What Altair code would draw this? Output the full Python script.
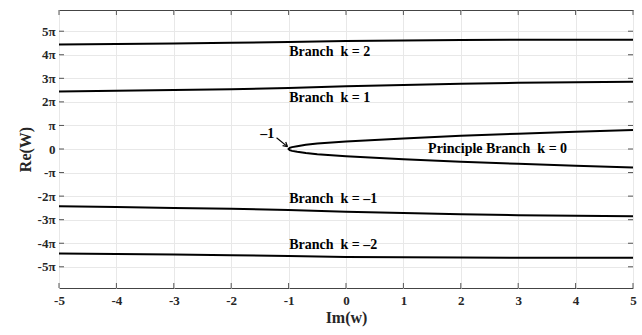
import altair as alt
import pandas as pd

# ---- data ----
branch_x = [-5, -4, -3, -2, -1, 0, 1, 2, 3, 4, 5]
k2_y = [4.44, 4.46, 4.48, 4.51, 4.54, 4.58, 4.61, 4.63, 4.635, 4.64, 4.64]
k1_y = [2.44, 2.47, 2.50, 2.54, 2.59, 2.66, 2.72, 2.77, 2.81, 2.83, 2.85]
km1_y = [-2.43, -2.46, -2.50, -2.54, -2.59, -2.66, -2.72, -2.77, -2.81, -2.83, -2.85]
km2_y = [-4.44, -4.46, -4.48, -4.51, -4.54, -4.58, -4.60, -4.61, -4.62, -4.62, -4.62]

p_x = [-1, -0.98, -0.94, -0.85, -0.7, -0.5, 0, 1, 2, 3, 4, 5]
p_upper = [0, 0.05, 0.08, 0.12, 0.18, 0.23, 0.32, 0.45, 0.56, 0.65, 0.73, 0.81]
p_lower = [0, -0.05, -0.08, -0.12, -0.17, -0.22, -0.31, -0.44, -0.54, -0.63, -0.71, -0.78]

x_ticks = [-5, -4, -3, -2, -1, 0, 1, 2, 3, 4, 5]
y_ticks = [-5, -4, -3, -2, -1, 0, 1, 2, 3, 4, 5]  # multiples of pi

NB = "\u00a0"
label_texts = ["Branch" + NB + NB + "k = 2", "Branch" + NB + NB + "k = 1",
               "Branch" + NB + NB + "k = –1", "Branch" + NB + NB + "k = –2",
               "Principle Branch" + NB + NB + "k = 0", "–1"]
label_x = [-0.99, -0.99, -0.99, -0.99, 1.43, -1.37]
label_y = [4.11, 2.16, -2.14, -4.06, 0.0, 0.63]
label_align = ["left", "left", "left", "left", "left", "center"]

# ---- build tables ----
rows = []
for name, ys in [("k2", k2_y), ("k1", k1_y), ("km1", km1_y), ("km2", km2_y)]:
    for i, (x, y) in enumerate(zip(branch_x, ys)):
        rows.append({"series": name, "x": x, "y": y, "ord": i})
order = 0
for x, y in reversed(list(zip(p_x, p_lower))):
    rows.append({"series": "k0", "x": x, "y": y, "ord": order}); order += 1
for x, y in list(zip(p_x, p_upper))[1:]:
    rows.append({"series": "k0", "x": x, "y": y, "ord": order}); order += 1
lines_df = pd.DataFrame(rows)

labels_df = pd.DataFrame({"text": label_texts, "x": label_x, "y": label_y, "align": label_align})

arrow_df = pd.DataFrame({
    "x": [-1.21, -1.02, -1.02],
    "y": [0.48, 0.10, 0.10],
    "x2": [-1.02, -1.05, -1.105],
    "y2": [0.10, 0.30, 0.14],
})

FONT = "Liberation Serif"
W, H = 574, 278
xs = alt.Scale(domain=[-5, 5], nice=False, zero=False)
ys = alt.Scale(domain=[-5.9, 5.9], nice=False, zero=False)

y_label_expr = ("datum.value == 0 ? '0' : datum.value == 1 ? 'π' : datum.value == -1 ? '-π' : "
                "datum.value + 'π'")
x_label_expr = "'' + datum.value"

x_axis = alt.Axis(
    values=x_ticks, labelExpr=x_label_expr, title="Im(w)", grid=True, ticks=False, domain=False,
    labelOverlap=False, labelFlush=False,
    labelFont=FONT, labelFontSize=13, labelFontWeight="bold", labelColor="#262626",
    labelPadding=6, titleFont=FONT, titleFontSize=16, titleFontWeight="bold",
    titleColor="#262626", titlePadding=2)
y_axis = alt.Axis(
    values=y_ticks, labelExpr=y_label_expr, title="Re(W)", grid=True, ticks=False,
    domain=False, labelOverlap=False, labelFlush=False, labelBound=False,
    labelFont=FONT, labelFontSize=13, labelFontWeight="bold",
    labelColor="#262626", labelPadding=4, titleFont=FONT, titleFontSize=16,
    titleFontWeight="bold", titleColor="#262626", titlePadding=4)


def X(field):
    return alt.X(field, scale=xs, axis=x_axis)


def Y(field):
    return alt.Y(field, scale=ys, axis=y_axis)


lines = alt.Chart(lines_df).mark_line(color="black", strokeWidth=2).encode(
    x=X("x:Q"), y=Y("y:Q"), detail="series:N", order="ord:Q",
)

texts_left = alt.Chart(labels_df[labels_df["align"] == "left"]).mark_text(
    font=FONT, fontSize=14, fontWeight="bold", color="black", baseline="middle", align="left"
).encode(x=X("x:Q"), y=Y("y:Q"), text="text:N")

texts_center = alt.Chart(labels_df[labels_df["align"] == "center"]).mark_text(
    font=FONT, fontSize=14, fontWeight="bold", color="black", baseline="middle", align="center"
).encode(x=X("x:Q"), y=Y("y:Q"), text="text:N")

arrow = alt.Chart(arrow_df).mark_rule(color="black", strokeWidth=1.2).encode(
    x=X("x:Q"), y=Y("y:Q"), x2="x2:Q", y2="y2:Q",
)

tick_color = "#555555"
ytick_df = pd.DataFrame({"v": y_ticks})
xtick_df = pd.DataFrame({"v": x_ticks})
yt_left = alt.Chart(ytick_df).mark_rule(color=tick_color, strokeWidth=1).encode(
    y=Y("v:Q"), x=alt.value(0), x2=alt.value(5))
yt_right = alt.Chart(ytick_df).mark_rule(color=tick_color, strokeWidth=1).encode(
    y=Y("v:Q"), x=alt.value(W - 5), x2=alt.value(W))
xt_bottom = alt.Chart(xtick_df).mark_rule(color=tick_color, strokeWidth=1).encode(
    x=X("v:Q"), y=alt.value(H), y2=alt.value(H - 5))
xt_top = alt.Chart(xtick_df).mark_rule(color=tick_color, strokeWidth=1).encode(
    x=X("v:Q"), y=alt.value(0), y2=alt.value(5))

chart = alt.layer(
    lines, yt_left, yt_right, xt_bottom, xt_top, arrow, texts_left, texts_center
).properties(
    width=W, height=H,
    autosize=alt.AutoSizeParams(type="none"),
    padding={"left": 59, "top": 10, "right": 9, "bottom": 47},
    background="white",
).configure_view(
    stroke="#444444", strokeWidth=1
).configure_axis(
    gridColor="#e8e8e8", gridWidth=1
)

chart.save("out.html", embed_options={"renderer": "svg", "actions": False})
